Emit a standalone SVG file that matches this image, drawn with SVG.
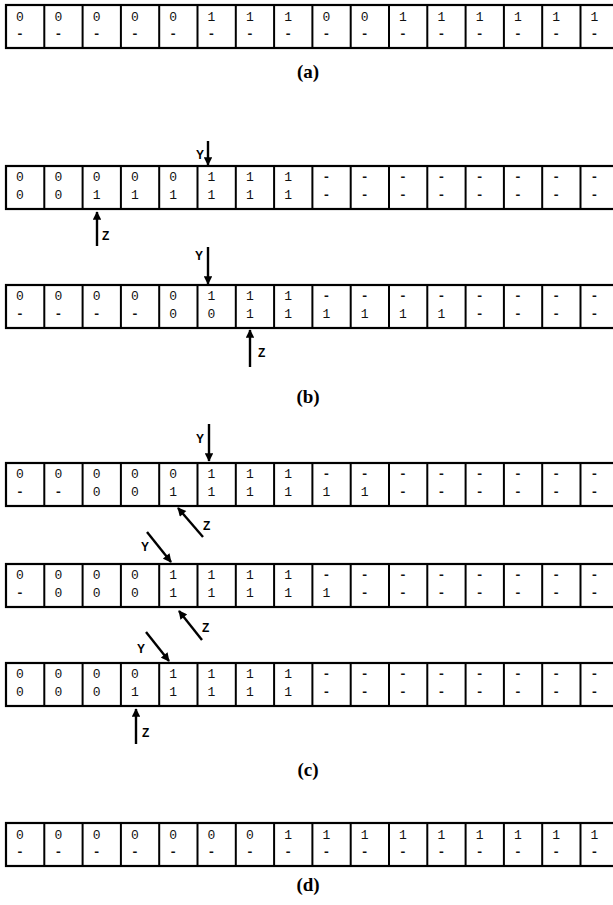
<svg xmlns="http://www.w3.org/2000/svg" width="613" height="905" viewBox="0 0 613 905">
<style>
.box{fill:none;stroke:#000;stroke-width:2.2}
.div{stroke:#000;stroke-width:2}
.cell{font-family:"Liberation Mono",monospace;font-size:13px;fill:#111;text-anchor:middle}
.d{font-weight:bold}
.lab{font-family:"Liberation Serif",serif;font-size:19px;font-weight:bold;fill:#000;text-anchor:middle}
.yz{font-family:"Liberation Sans",Arial,sans-serif;font-size:12px;font-weight:bold;fill:#000}
.arr{stroke:#000;stroke-width:2.4;fill:none;marker-end:url(#ah)}
</style>
<defs>
<marker id="ah" viewBox="0 0 10 10" refX="9" refY="5" markerWidth="4" markerHeight="3.6" orient="auto" markerUnits="strokeWidth">
<path d="M0,0 L10,5 L0,10 Z" fill="#000"/>
</marker>
<g id="grid">
<rect class="box" x="6" y="0" width="640" height="43"/>
<path class="div" d="M44.3,0V43M82.6,0V43M120.9,0V43M159.2,0V43M197.5,0V43M235.8,0V43M274.1,0V43M312.4,0V43M350.7,0V43M389,0V43M427.3,0V43M465.6,0V43M503.9,0V43M542.2,0V43M580.5,0V43"/>
</g>
</defs>
<rect width="613" height="905" fill="#fff"/>

<g id="row-a">
<use href="#grid" y="5"/>
<text class="cell" x="20 58.3 96.6 134.9 173.2 211.5 249.8 288.1 326.4 364.7 403 441.3 479.6 517.9 556.2 594.5" y="21">0000011100111111</text>
<text class="cell d" x="20 58.3 96.6 134.9 173.2 211.5 249.8 288.1 326.4 364.7 403 441.3 479.6 517.9 556.2 594.5" y="38">----------------</text>
</g>
<text class="lab" x="308" y="78">(a)</text>

<g id="row-b1">
<use href="#grid" y="166"/>
<text class="cell" x="20 58.3 96.6 134.9 173.2 211.5 249.8 288.1" y="181">00000111</text>
<text class="cell d" x="326.4 364.7 403 441.3 479.6 517.9 556.2 594.5" y="181">--------</text>
<text class="cell" x="20 58.3 96.6 134.9 173.2 211.5 249.8 288.1" y="199">00111111</text>
<text class="cell d" x="326.4 364.7 403 441.3 479.6 517.9 556.2 594.5" y="199">--------</text>
</g>

<g id="row-b2">
<use href="#grid" y="285"/>
<text class="cell" x="20 58.3 96.6 134.9 173.2 211.5 249.8 288.1" y="300">00000111</text>
<text class="cell d" x="326.4 364.7 403 441.3 479.6 517.9 556.2 594.5" y="300">--------</text>
<text class="cell d" x="20 58.3 96.6 134.9" y="318">----</text>
<text class="cell" x="173.2 211.5 249.8 288.1 326.4 364.7 403 441.3" y="318">00111111</text>
<text class="cell d" x="479.6 517.9 556.2 594.5" y="318">----</text>
</g>
<text class="lab" x="308" y="403">(b)</text>

<g id="row-c1">
<use href="#grid" y="463"/>
<text class="cell" x="20 58.3 96.6 134.9 173.2 211.5 249.8 288.1" y="478">00000111</text>
<text class="cell d" x="326.4 364.7 403 441.3 479.6 517.9 556.2 594.5" y="478">--------</text>
<text class="cell d" x="20 58.3" y="496">--</text>
<text class="cell" x="96.6 134.9 173.2 211.5 249.8 288.1 326.4 364.7" y="496">00111111</text>
<text class="cell d" x="403 441.3 479.6 517.9 556.2 594.5" y="496">------</text>
</g>

<g id="row-c2">
<use href="#grid" y="564"/>
<text class="cell" x="20 58.3 96.6 134.9 173.2 211.5 249.8 288.1" y="579">00001111</text>
<text class="cell d" x="326.4 364.7 403 441.3 479.6 517.9 556.2 594.5" y="579">--------</text>
<text class="cell d" x="20" y="597">-</text>
<text class="cell" x="58.3 96.6 134.9 173.2 211.5 249.8 288.1 326.4" y="597">00011111</text>
<text class="cell d" x="364.7 403 441.3 479.6 517.9 556.2 594.5" y="597">-------</text>
</g>

<g id="row-c3">
<use href="#grid" y="663"/>
<text class="cell" x="20 58.3 96.6 134.9 173.2 211.5 249.8 288.1" y="678">00001111</text>
<text class="cell d" x="326.4 364.7 403 441.3 479.6 517.9 556.2 594.5" y="678">--------</text>
<text class="cell" x="20 58.3 96.6 134.9 173.2 211.5 249.8 288.1" y="696">00011111</text>
<text class="cell d" x="326.4 364.7 403 441.3 479.6 517.9 556.2 594.5" y="696">--------</text>
</g>
<text class="lab" x="308" y="776">(c)</text>

<g id="row-d">
<use href="#grid" y="823"/>
<text class="cell" x="20 58.3 96.6 134.9 173.2 211.5 249.8 288.1 326.4 364.7 403 441.3 479.6 517.9 556.2 594.5" y="839">0000000111111111</text>
<text class="cell d" x="20 58.3 96.6 134.9 173.2 211.5 249.8 288.1 326.4 364.7 403 441.3 479.6 517.9 556.2 594.5" y="856">----------------</text>
</g>
<text class="lab" x="308" y="891">(d)</text>

<g id="connectors">
<line class="arr" x1="208" y1="141" x2="208" y2="165"/>
<line class="arr" x1="97" y1="246" x2="97" y2="212"/>
<line class="arr" x1="208" y1="247" x2="208" y2="284"/>
<line class="arr" x1="250" y1="367" x2="250" y2="330"/>
<line class="arr" x1="209" y1="424" x2="209" y2="461"/>
<line class="arr" x1="203" y1="537" x2="178" y2="508"/>
<line class="arr" x1="147" y1="532" x2="171" y2="562"/>
<line class="arr" x1="202" y1="640" x2="179" y2="611"/>
<line class="arr" x1="146" y1="632" x2="169" y2="661"/>
<line class="arr" x1="136" y1="744" x2="136" y2="709"/>
</g>
<g id="arrow-labels">
<text class="yz" x="204" y="159" text-anchor="end">Y</text>
<text class="yz" x="102" y="240">Z</text>
<text class="yz" x="203" y="260" text-anchor="end">Y</text>
<text class="yz" x="258" y="357">Z</text>
<text class="yz" x="204" y="443" text-anchor="end">Y</text>
<text class="yz" x="203" y="530">Z</text>
<text class="yz" x="145" y="551" text-anchor="middle">Y</text>
<text class="yz" x="202" y="632">Z</text>
<text class="yz" x="141" y="653" text-anchor="middle">Y</text>
<text class="yz" x="142" y="737">Z</text>
</g>
</svg>
